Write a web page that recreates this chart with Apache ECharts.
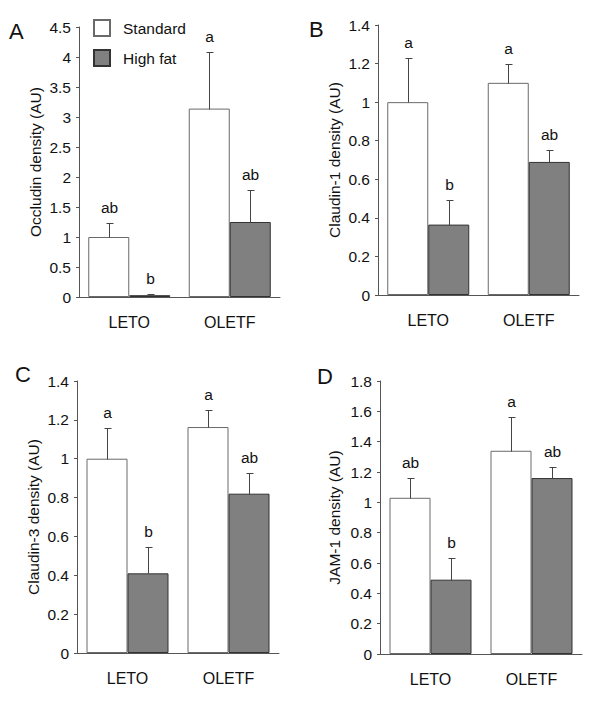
<!DOCTYPE html>
<html>
<head>
<meta charset="utf-8">
<script src="https://cdn.jsdelivr.net/npm/echarts@6/dist/echarts.min.js"></script>
<style>
html,body{margin:0;padding:0;background:#fff;}
#chart{width:600px;height:703px;}
</style>
</head>
<body>
<div id="chart"></div>
<script>
// ---- data ----
const categories = ['LETO', 'OLETF'];
const seriesNames = ['Standard', 'High fat'];
const panelLetters = ['A', 'B', 'C', 'D'];
const yAxisNames = ['Occludin density (AU)', 'Claudin-1 density (AU)', 'Claudin-3 density (AU)', 'JAM-1 density (AU)'];
const yMax = [4.5, 1.4, 1.4, 1.8];
const yStep = [0.5, 0.2, 0.2, 0.2];

const occludinStd = [1.0, 3.14];
const occludinStdErr = [0.23, 0.95];
const occludinHf = [0.03, 1.25];
const occludinHfErr = [0.02, 0.53];
const occludinStdSig = ['ab', 'a'];
const occludinHfSig = ['b', 'ab'];

const claudin1Std = [1.0, 1.10];
const claudin1StdErr = [0.23, 0.10];
const claudin1Hf = [0.365, 0.69];
const claudin1HfErr = [0.13, 0.06];
const claudin1StdSig = ['a', 'a'];
const claudin1HfSig = ['b', 'ab'];

const claudin3Std = [1.0, 1.163];
const claudin3StdErr = [0.16, 0.09];
const claudin3Hf = [0.41, 0.82];
const claudin3HfErr = [0.135, 0.105];
const claudin3StdSig = ['a', 'a'];
const claudin3HfSig = ['b', 'ab'];

const jam1Std = [1.03, 1.34];
const jam1StdErr = [0.13, 0.22];
const jam1Hf = [0.49, 1.16];
const jam1HfErr = [0.14, 0.075];
const jam1StdSig = ['ab', 'a'];
const jam1HfSig = ['b', 'ab'];

// ---- layout / style ----
const FONT = '"Liberation Sans", Arial, sans-serif';
const FS = 15.5;
const BAR_W = 41;
const grids = [
  {left: 79, top: 27, width: 201, height: 270},
  {left: 378, top: 25, width: 201, height: 270},
  {left: 77, top: 381, width: 202, height: 272},
  {left: 380, top: 381, width: 202, height: 273}
];
const nameGaps = [36, 36, 36, 38];
const titlePos = [{left: 9, top: 20}, {left: 309, top: 18.5}, {left: 15, top: 363.5}, {left: 317, top: 365}];

const panels = [
  {std: occludinStd, stdErr: occludinStdErr, hf: occludinHf, hfErr: occludinHfErr, stdSig: occludinStdSig, hfSig: occludinHfSig},
  {std: claudin1Std, stdErr: claudin1StdErr, hf: claudin1Hf, hfErr: claudin1HfErr, stdSig: claudin1StdSig, hfSig: claudin1HfSig},
  {std: claudin3Std, stdErr: claudin3StdErr, hf: claudin3Hf, hfErr: claudin3HfErr, stdSig: claudin3StdSig, hfSig: claudin3HfSig},
  {std: jam1Std, stdErr: jam1StdErr, hf: jam1Hf, hfErr: jam1HfErr, stdSig: jam1StdSig, hfSig: jam1HfSig}
];

const stdStyle = {color: '#ffffff', borderColor: '#6a6a6a', borderWidth: 1};
const hfStyle = {color: '#808080', borderColor: '#333333', borderWidth: 1};
const axisColor = '#555555';

function errRender(sign, sig) {
  return function (params, api) {
    const i = api.value(0), m = api.value(1), e = api.value(2);
    const base = api.coord([i, m]);
    const top = api.coord([i, m + e]);
    const x = Math.round(base[0] + sign * BAR_W / 2) + 0.5;
    const yb = Math.round(base[1]) + 0.5, yt = Math.round(top[1]) + 0.5;
    return {
      type: 'group',
      children: [
        {type: 'line', shape: {x1: x, y1: yb, x2: x, y2: yt}, style: {stroke: '#444', lineWidth: 1}},
        {type: 'line', shape: {x1: x - 3, y1: yt, x2: x + 4, y2: yt}, style: {stroke: '#444', lineWidth: 1}},
        {type: 'text', x: x, y: yt - 8, style: {text: sig[params.dataIndex], align: 'center', verticalAlign: 'bottom', fontSize: FS, fontFamily: FONT, fill: '#111'}}
      ]
    };
  };
}

const option = {
  animation: false,
  backgroundColor: '#fff',
  title: panelLetters.map((t, k) => ({
    text: t, left: titlePos[k].left, top: titlePos[k].top, padding: 0,
    textStyle: {fontSize: 22, fontWeight: 'normal', fontFamily: FONT, color: '#111'}
  })),
  legend: {
    data: seriesNames, orient: 'vertical', left: 93, top: 19, padding: 0,
    itemWidth: 16, itemHeight: 16, itemGap: 12, icon: 'rect',
    textStyle: {fontSize: FS, fontFamily: FONT, color: '#111', padding: [0, 0, 0, 8]},
    selectedMode: false
  },
  grid: grids,
  xAxis: grids.map((g, k) => ({
    type: 'category', gridIndex: k, data: categories,
    axisLine: {lineStyle: {color: axisColor, width: 1}},
    axisTick: {show: false},
    axisLabel: {fontSize: 16, fontFamily: FONT, color: '#111', margin: 17}
  })),
  yAxis: grids.map((g, k) => ({
    type: 'value', gridIndex: k, min: 0, max: yMax[k], interval: yStep[k],
    name: yAxisNames[k], nameLocation: 'middle', nameGap: nameGaps[k], nameRotate: 90,
    nameTextStyle: {fontSize: FS, fontFamily: FONT, color: '#111'},
    axisLine: {show: true, lineStyle: {color: axisColor, width: 1}},
    axisTick: {show: true, length: 3, lineStyle: {color: axisColor}},
    axisLabel: {fontSize: FS, fontFamily: FONT, color: '#111', margin: 8},
    splitLine: {show: false}
  })),
  series: []
};

panels.forEach((p, k) => {
  option.series.push({
    name: seriesNames[0], type: 'bar', xAxisIndex: k, yAxisIndex: k,
    data: p.std, barWidth: BAR_W, barGap: '0%', itemStyle: stdStyle
  });
  option.series.push({
    name: seriesNames[1], type: 'bar', xAxisIndex: k, yAxisIndex: k,
    data: p.hf, barWidth: BAR_W, barGap: '0%', itemStyle: hfStyle
  });
  option.series.push({
    type: 'custom', xAxisIndex: k, yAxisIndex: k, z: 5,
    data: p.std.map((v, i) => [i, v, p.stdErr[i]]),
    encode: {x: 0, y: 1},
    renderItem: errRender(-1, p.stdSig)
  });
  option.series.push({
    type: 'custom', xAxisIndex: k, yAxisIndex: k, z: 5,
    data: p.hf.map((v, i) => [i, v, p.hfErr[i]]),
    encode: {x: 0, y: 1},
    renderItem: errRender(1, p.hfSig)
  });
});

const chart = echarts.init(document.getElementById('chart'), null, {renderer: 'svg'});
chart.setOption(option);
</script>
</body>
</html>
